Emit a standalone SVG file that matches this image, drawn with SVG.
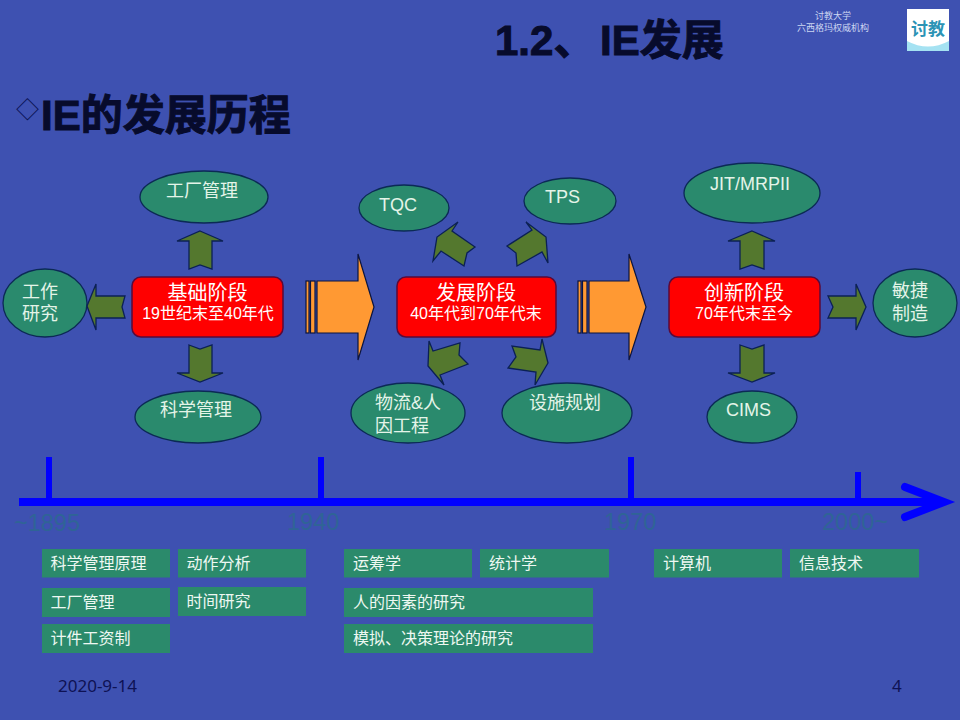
<svg xmlns="http://www.w3.org/2000/svg" width="960" height="720" viewBox="0 0 960 720">
<style>
text{font-family:"Liberation Sans","Noto Sans CJK SC",sans-serif}
.el{fill:#2a8a6d;stroke:#0b2a55;stroke-width:1.3}
.red{fill:#ff0000;stroke:#5a0a3a;stroke-width:1.5}
.ar{fill:#54782e;stroke:#0b2055;stroke-width:1.3;stroke-linejoin:miter}
.or{fill:#ff9933;stroke:#0a1440;stroke-width:1.2}
.lb{fill:#e4f4e8;font-size:18px}
.wh{fill:#fff;font-size:20px;text-anchor:middle}
.wh2{fill:#fff;font-size:16px;text-anchor:middle}
.bx{fill:#2b8a6b}
.bt{fill:#eef8f2;font-size:16px}
.yr{fill:#2f6496;font-size:23.5px}
.tick{fill:#0000ff}
.ft{fill:#0e1254;font-family:"Noto Sans",sans-serif;font-size:17px}
.hd{fill:#070b2c;stroke:#070b2c;stroke-width:1;font-weight:bold;font-size:42px}
.top{fill:#ccd6f2;font-size:9px;text-anchor:middle}
</style>
<rect width="960" height="720" fill="#3e51b1"/>
<g id="title"><text class="hd" x="495" y="55">1.2、<tspan x="600">IE发展</tspan></text></g>
<g id="subtitle"><text x="16" y="118" font-size="23" fill="#0a1254" style="font-family:'Noto Sans CJK SC',sans-serif">◇</text><text class="hd" x="41" y="130">IE的发展历程</text></g>
<g id="org"><text class="top" x="833" y="19">讨教大学</text><text class="top" x="833" y="31">六西格玛权威机构</text></g>
<g id="logo"><rect x="907" y="9" width="42" height="42" fill="#fff"/><path d="M907 41Q928 52 949 41V51H907Z" fill="#a5e2f2"/><text x="928" y="35" font-size="17" font-weight="bold" fill="#2b93b5" text-anchor="middle">讨教</text></g>
<g id="connectors">
<polygon class="ar" points="200,231 223,241 212,241 212,269 200,265 189,269 189,241 177,241"/>
<polygon class="ar" points="87,306 96,284 96,296 125,296 122,307 125,318 96,318 96,330"/>
<polygon class="ar" points="189,345 200,349 212,345 212,373 223,373 200,382 177,373 189,373"/>
<polygon class="ar" points="458,222 452,231 475,247 467,253 464,266 441,251 433,261 437,237"/>
<polygon class="ar" points="526,222 546,237 548,263 542,252 517,266 516,253 507,246 532,230"/>
<polygon class="ar" points="429,341 433,351 460,343 459,355 468,364 440,375 444,385 428,366"/>
<polygon class="ar" points="512,346 516,357 508,368 536,372 535,385 548,363 542,339 540,350"/>
<polygon class="ar" points="752,231 775,241 764,241 764,269 752,265 740,269 740,241 728,241"/>
<polygon class="ar" points="740,345 752,349 764,345 764,373 775,373 752,382 728,373 740,373"/>
<polygon class="ar" points="828,296 856,296 856,284 866,307 856,330 856,318 828,318 833,307"/>
<g id="big-arrow-1"><rect class="or" x="306" y="281" width="3" height="52"/><rect class="or" x="310.500" y="281" width="4.500" height="52"/><polygon class="or" points="317,281 358,281 358,254 374,307 358,360 358,333 317,333"/></g>
<g id="big-arrow-2"><rect class="or" x="578" y="281" width="3" height="52"/><rect class="or" x="582.500" y="281" width="4.500" height="52"/><polygon class="or" points="589,281 629,281 629,254 646,307 629,360 629,333 589,333"/></g>
</g>
<g id="n-gongchang"><ellipse class="el" cx="204" cy="197" rx="64" ry="26"/><text class="lb" x="166" y="197">工厂管理</text></g>
<g id="n-gongzuo"><ellipse class="el" cx="45" cy="303" rx="42" ry="34"/><text class="lb" x="22" y="298">工作</text><text class="lb" x="22" y="320">研究</text></g>
<g id="n-kexue"><ellipse class="el" cx="198" cy="417" rx="63" ry="26"/><text class="lb" x="160" y="416">科学管理</text></g>
<g id="n-tqc"><ellipse class="el" cx="404" cy="208" rx="45" ry="23"/><text class="lb" x="379" y="211">TQC</text></g>
<g id="n-tps"><ellipse class="el" cx="570" cy="201" rx="46" ry="23"/><text class="lb" x="545" y="203">TPS</text></g>
<g id="n-wuliu"><ellipse class="el" cx="408" cy="413" rx="57" ry="30"/><text class="lb" x="375" y="409">物流&amp;人</text><text class="lb" x="375" y="432">因工程</text></g>
<g id="n-sheshi"><ellipse class="el" cx="567" cy="413" rx="65" ry="30"/><text class="lb" x="529" y="409">设施规划</text></g>
<g id="n-jit"><ellipse class="el" cx="752" cy="193" rx="68" ry="30"/><text class="lb" x="710" y="190">JIT/MRPII</text></g>
<g id="n-cims"><ellipse class="el" cx="752" cy="417" rx="45" ry="26"/><text class="lb" x="726" y="416">CIMS</text></g>
<g id="n-minjie"><ellipse class="el" cx="915" cy="303" rx="42" ry="34"/><text class="lb" x="892" y="297">敏捷</text><text class="lb" x="892" y="320">制造</text></g>
<g id="n-jichu"><rect class="red" x="132" y="277" width="151" height="60" rx="9"/><text class="wh" x="207.500" y="300">基础阶段</text><text class="wh2" x="208" y="319">19世纪末至40年代</text></g>
<g id="n-fazhan"><rect class="red" x="397" y="277" width="159" height="60" rx="9"/><text class="wh" x="476" y="300">发展阶段</text><text class="wh2" x="476" y="319">40年代到70年代末</text></g>
<g id="n-chuangxin"><rect class="red" x="669" y="277" width="151" height="60" rx="9"/><text class="wh" x="744" y="300">创新阶段</text><text class="wh2" x="744" y="319">70年代末至今</text></g>
<g id="timeline">
<path d="M19 502H940" fill="none" stroke="#0000ff" stroke-width="8"/>
<path d="M905 487L944 502L905 517" fill="none" stroke="#0000ff" stroke-width="8" stroke-linecap="round"/>
<rect class="tick" x="46" y="457" width="6" height="45"/><rect class="tick" x="318" y="457" width="6" height="45"/><rect class="tick" x="628" y="457" width="6" height="45"/><rect class="tick" x="855" y="472" width="6" height="30"/>
<text class="yr" x="14" y="531">~1895</text><text class="yr" x="287" y="530">1940</text><text class="yr" x="604" y="530">1970</text><text class="yr" x="822" y="530">2000~</text>
</g>
<g id="b1"><rect class="bx" x="42" y="549" width="128" height="28.500"/><text class="bt" x="50.500" y="569">科学管理原理</text></g>
<g id="b2"><rect class="bx" x="178" y="549" width="128" height="28.500"/><text class="bt" x="186.500" y="569">动作分析</text></g>
<g id="b3"><rect class="bx" x="344" y="549" width="128" height="28.500"/><text class="bt" x="353" y="569">运筹学</text></g>
<g id="b4"><rect class="bx" x="480" y="549" width="129" height="28.500"/><text class="bt" x="489" y="569">统计学</text></g>
<g id="b5"><rect class="bx" x="654" y="549" width="128" height="28.500"/><text class="bt" x="663" y="569">计算机</text></g>
<g id="b6"><rect class="bx" x="790" y="549" width="129" height="28.500"/><text class="bt" x="799" y="569">信息技术</text></g>
<g id="b7"><rect class="bx" x="42" y="588" width="128" height="29"/><text class="bt" x="50.500" y="608">工厂管理</text></g>
<g id="b8"><rect class="bx" x="178" y="587" width="128" height="29"/><text class="bt" x="186.500" y="607">时间研究</text></g>
<g id="b9"><rect class="bx" x="344" y="588" width="249" height="29"/><text class="bt" x="353" y="608">人的因素的研究</text></g>
<g id="b10"><rect class="bx" x="42" y="624" width="128" height="29"/><text class="bt" x="50.500" y="644">计件工资制</text></g>
<g id="b11"><rect class="bx" x="344" y="624" width="249" height="29"/><text class="bt" x="353" y="644">模拟、决策理论的研究</text></g>
<g id="footer"><text class="ft" x="58" y="692">2020-9-14</text><text class="ft" x="892" y="692">4</text></g>
</svg>
